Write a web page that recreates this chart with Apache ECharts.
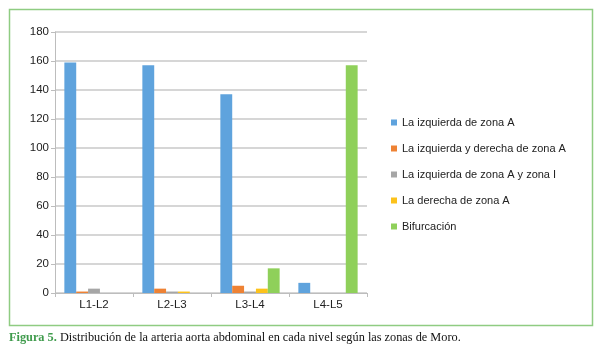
<!DOCTYPE html>
<html><head><meta charset="utf-8">
<script src="https://cdn.jsdelivr.net/npm/echarts@6/dist/echarts.min.js"></script>
<style>html,body{margin:0;padding:0;background:#fff}#c{width:605px;height:357px}</style>
</head><body><div id="c"></div>
<script>
const categories = ['L1-L2', 'L2-L3', 'L3-L4', 'L4-L5'];
const seriesNames = ['La izquierda de zona A', 'La izquierda y derecha de zona A', 'La izquierda de zona A y zona I', 'La derecha de zona A', 'Bifurcación'];
const izquierdaA = [159, 157, 137, 7];
const izqDerA = [1, 3, 5, 0];
const izqAZonaI = [3, 1, 1, 0];
const derechaA = [0, 1, 3, 0];
const bifurcacion = [0, 0, 17, 157];
const yTicks = { min: 0, max: 180, interval: 20 };
const colors = ['#5fa3dd', '#ee8234', '#a6a6a6', '#fcc21b', '#8fd05a'];
const captionLead = 'Figura 5.';
const captionText = ' Distribución de la arteria aorta abdominal en cada nivel según las zonas de Moro.';

const values = [izquierdaA, izqDerA, izqAZonaI, derechaA, bifurcacion];
const chart = echarts.init(document.getElementById('c'), null, { renderer: 'canvas' });
chart.setOption({
  animation: false,
  color: colors,
  textStyle: { fontFamily: 'Liberation Sans, Arial, sans-serif' },
  grid: { left: 55, right: 238, top: 32, bottom: 64, containLabel: false },
  legend: {
    orient: 'vertical', left: 386, top: 112, itemGap: 15,
    itemWidth: 6, itemHeight: 6, icon: 'rect',
    textStyle: { fontSize: 11, color: '#222' },
    data: seriesNames
  },
  xAxis: {
    type: 'category', data: categories,
    axisLine: { lineStyle: { color: '#bdbdbd', width: 1 } },
    axisTick: { show: true, alignWithLabel: false, length: 4, lineStyle: { color: '#bdbdbd' } },
    axisLabel: { fontSize: 11.5, color: '#222', margin: 6 }
  },
  yAxis: {
    type: 'value', min: yTicks.min, max: yTicks.max, interval: yTicks.interval,
    axisLine: { show: true, lineStyle: { color: '#bdbdbd', width: 1 } },
    axisTick: { show: true, length: 4, lineStyle: { color: '#bdbdbd' } },
    axisLabel: { fontSize: 11.5, color: '#222', margin: 6 },
    splitLine: { lineStyle: { color: '#c8c8c8', width: 1.5 } }
  },
  series: seriesNames.map((n, i) => ({
    name: n, type: 'bar', data: values[i],
    barGap: '0%', barCategoryGap: '24%'
  })),
  graphic: [
    { type: 'rect', shape: { x: 9.5, y: 9.5, width: 583, height: 316 },
      style: { fill: 'none', stroke: '#8fcc82', lineWidth: 1.5 }, silent: true },
    { type: 'text', left: 9, top: 332,
      style: {
        text: '{g|' + captionLead + '}{b|' + captionText + '}',
        rich: {
          g: { fontFamily: 'Liberation Serif, Times New Roman, serif', fontSize: 12.3, fill: '#3f9b4c', fontWeight: 'bold' },
          b: { fontFamily: 'Liberation Serif, Times New Roman, serif', fontSize: 12.3, fill: '#111' }
        }
      } }
  ]
});
</script></body></html>
